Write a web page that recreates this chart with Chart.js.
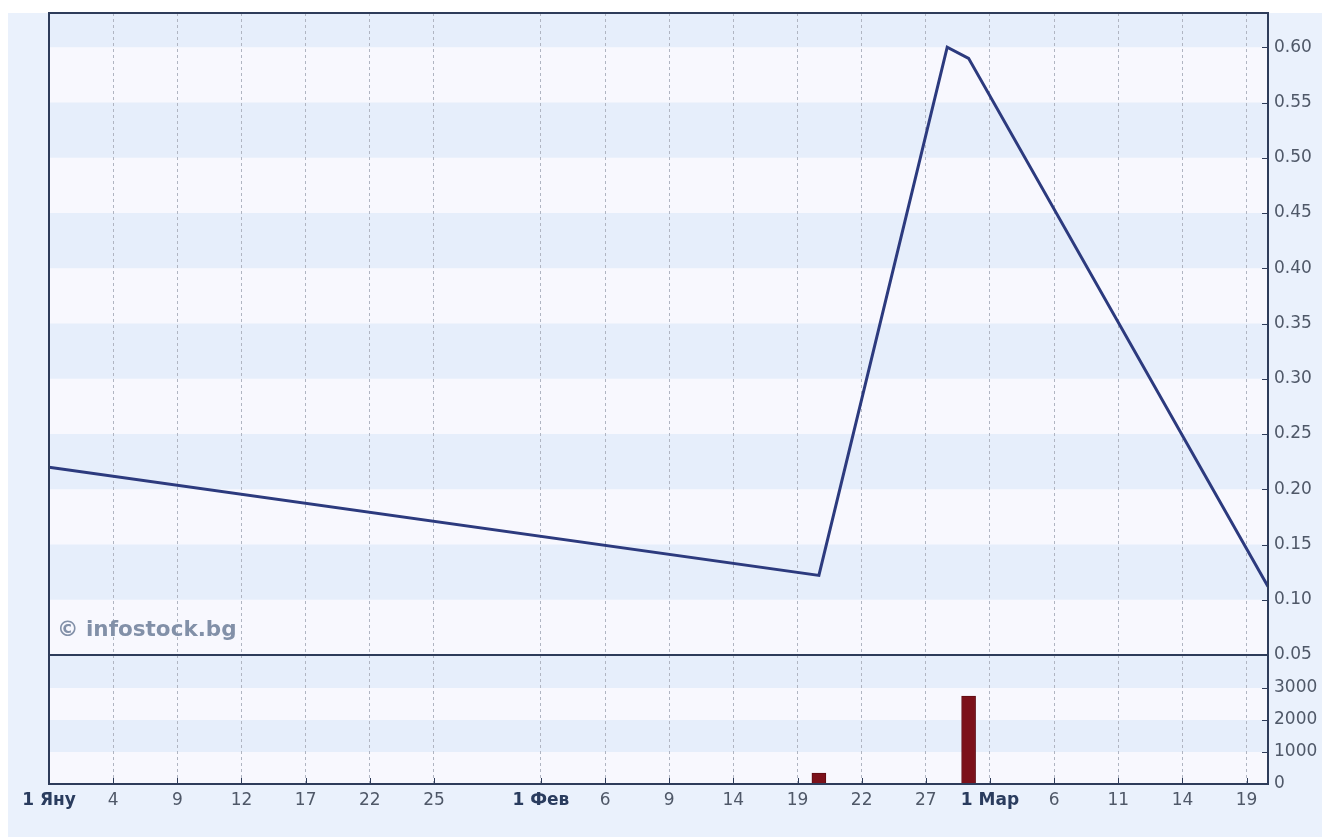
<!DOCTYPE html>
<html>
<head>
<meta charset="utf-8">
<script src="https://cdn.jsdelivr.net/npm/chart.js@4.4.1/dist/chart.umd.min.js"></script>
<style>
  html, body { margin: 0; padding: 0; background: #fff; }
  #wrap { position: relative; width: 1322px; height: 837px; }
  #c { display: block; }
  #mark { position: absolute; left: 57px; top: 616px; font: bold 21.5px "DejaVu Sans", sans-serif; color: #8290a8; }
</style>
</head>
<body>
<div id="wrap"><canvas id="c" width="1322" height="837"></canvas><div id="mark">© infostock.bg</div></div>
<script>
// ос X = поредни търговски дни
const tickDays = [0, 3, 6, 9, 12, 15, 18, 23, 26, 29, 32, 35, 38, 41, 44, 47, 50, 53, 56];
const tickLabels = ['1 Яну', '4', '9', '12', '17', '22', '25', '1 Фев', '6', '9', '14', '19', '22', '27', '1 Мар', '6', '11', '14', '19'];
const monthLabels = ['1 Яну', '1 Фев', '1 Мар'];

// цена
const priceDays = [0, 36, 42, 43, 57];
const priceValues = [0.22, 0.122, 0.60, 0.59, 0.112];
const priceTicks = [0.05, 0.10, 0.15, 0.20, 0.25, 0.30, 0.35, 0.40, 0.45, 0.50, 0.55, 0.60];

// обем
const volumeDays = [36, 43];
const volumeValues = [340, 2750];
const volumeTicks = [0, 1000, 2000, 3000];

const FONT = '"DejaVu Sans", sans-serif';
const FRAME = '#2e3c5a';

// фон, ленти, рамка
const decor = {
  id: 'decor',
  beforeDraw(chart) {
    const c = chart.ctx, a = chart.chartArea;
    const y = chart.scales.y, v = chart.scales.v;
    c.save();
    c.fillStyle = '#eaf1fc';
    c.fillRect(8, 13, chart.width - 8, chart.height - 13);
    c.fillStyle = '#f8f8fe';
    c.fillRect(a.left, a.top, a.right - a.left, a.bottom - a.top);
    c.fillStyle = '#e6eefb';
    const band = (s, lo, hi) => {
      const p1 = s.getPixelForValue(hi), p2 = s.getPixelForValue(lo);
      c.fillRect(a.left, p1, a.right - a.left, p2 - p1);
    };
    band(y, 0.60, y.max);
    [0.50, 0.40, 0.30, 0.20, 0.10].forEach(lo => band(y, lo, lo + 0.05));
    band(v, 3000, v.max);
    band(v, 1000, 2000);
    c.restore();
  },
  afterDraw(chart) {
    const c = chart.ctx, a = chart.chartArea;
    const x = chart.scales.x, y = chart.scales.y, v = chart.scales.v;
    c.save();
    c.strokeStyle = FRAME;
    c.lineWidth = 1;
    // малки чертички навътре
    c.beginPath();
    priceTicks.forEach(t => {
      const p = Math.round(y.getPixelForValue(t)) + 0.5;
      c.moveTo(a.right - 6, p); c.lineTo(a.right, p);
    });
    volumeTicks.forEach(t => {
      const p = Math.round(v.getPixelForValue(t)) + 0.5;
      c.moveTo(a.right - 6, p); c.lineTo(a.right, p);
    });
    tickDays.forEach(t => {
      const p = Math.round(x.getPixelForValue(t)) + 0.5;
      c.moveTo(p, a.bottom); c.lineTo(p, a.bottom - 6);
    });
    c.stroke();
    c.lineWidth = 2;
    c.strokeRect(a.left, a.top, a.right - a.left, a.bottom - a.top);
    c.beginPath();
    c.moveTo(a.left, y.bottom); c.lineTo(a.right, y.bottom);
    c.stroke();
    c.restore();
  }
};

new Chart(document.getElementById('c'), {
  type: 'line',
  data: {
    datasets: [{
      type: 'line',
      data: priceDays.map((d, i) => ({ x: d, y: priceValues[i] })),
      yAxisID: 'y',
      borderColor: '#2c3a7e',
      borderWidth: 3,
      pointRadius: 0,
      tension: 0,
      order: 0
    }, {
      type: 'bar',
      data: volumeDays.map((d, i) => ({ x: d, y: volumeValues[i] })),
      yAxisID: 'v',
      backgroundColor: '#7c111a',
      borderColor: '#5e0c13',
      borderWidth: 1,
      barThickness: 14,
      order: 1
    }]
  },
  options: {
    responsive: false,
    animation: false,
    devicePixelRatio: 1,
    layout: { padding: { left: 49, top: 13, right: 0, bottom: 0 } },
    plugins: { legend: { display: false }, tooltip: { enabled: false } },
    scales: {
      x: {
        type: 'linear',
        min: 0,
        max: 57,
        offset: false,
        afterBuildTicks: s => { s.ticks = tickDays.map(d => ({ value: d })); },
        afterFit: s => { s.height = 53; },
        grid: { color: '#b0b5c2', lineWidth: 1, drawTicks: false, offset: false },
        border: { display: false, dash: [3, 3] },
        ticks: {
          padding: 6,
          maxRotation: 0,
          autoSkip: false,
          callback: (val, i) => tickLabels[i],
          color: ctx => monthLabels.includes(tickLabels[ctx.index]) ? '#2a3c5e' : '#4f5868',
          font: ctx => monthLabels.includes(tickLabels[ctx.index])
            ? { family: FONT, size: 17, weight: 'bold' }
            : { family: FONT, size: 17 }
        }
      },
      y: {
        type: 'linear',
        position: 'right',
        stack: 'panels',
        stackWeight: 642,
        min: 0.05,
        max: 0.631,
        afterBuildTicks: s => { s.ticks = priceTicks.map(t => ({ value: t })); },
        afterFit: s => { s.width = 54; },
        grid: { display: false },
        border: { display: false },
        ticks: {
          padding: -2,
          autoSkip: false,
          callback: val => val.toFixed(2),
          color: '#4f5868',
          font: { family: FONT, size: 17 }
        }
      },
      v: {
        type: 'linear',
        position: 'right',
        stack: 'panels',
        stackWeight: 129,
        min: 0,
        max: 4030,
        afterBuildTicks: s => { s.ticks = volumeTicks.map(t => ({ value: t })); },
        afterFit: s => { s.width = 54; },
        grid: { display: false },
        border: { display: false },
        ticks: {
          padding: -2,
          autoSkip: false,
          callback: val => String(val),
          color: '#4f5868',
          font: { family: FONT, size: 17 }
        }
      }
    }
  },
  plugins: [decor]
});
</script>
</body>
</html>
